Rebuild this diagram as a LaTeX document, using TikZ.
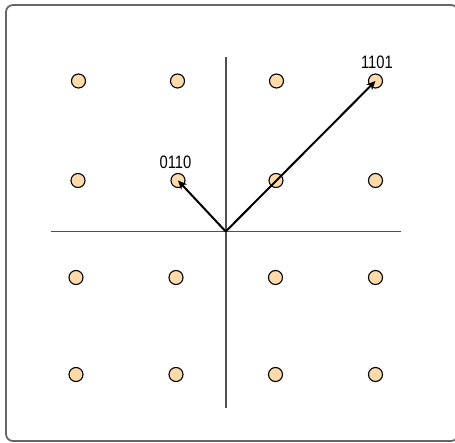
\documentclass[tikz,border=0pt]{standalone}
\usepackage{fontspec}
\setmainfont{Liberation Sans}[FakeStretch=0.82]
\usetikzlibrary{arrows.meta}
\definecolor{dotfill}{HTML}{FDDAAA}
\definecolor{axisgray}{HTML}{505050}
\definecolor{framegray}{HTML}{666666}
\begin{document}
\begin{tikzpicture}[x=1pt,y=-1pt,
  dot/.style={circle,draw=black,fill=dotfill,line width=1.1pt,minimum size=14pt,inner sep=0pt},
  axis/.style={draw=axisgray,line width=1.6pt},
  vec/.style={draw=black,line width=2pt,-{Stealth[length=9pt,width=8pt]}},
  lbl/.style={font=\fontsize{18}{18}\selectfont,inner sep=0pt}]
\useasboundingbox (0,0) rectangle (455,443);
\draw[framegray,line width=1.8pt,rounded corners=7pt] (6,5) rectangle (458,441);
% axes
\coordinate (xl) at (51,231.5);
\coordinate (xr) at (401,231.5);
\coordinate (yt) at (225.7,57);
\coordinate (yb) at (225.7,408);
\coordinate (o) at (225.7,231.5);
\draw[axis] (xl) -- (xr);
\draw[axis] (yt) -- (yb);
% dots
\node[dot] (d11) at (78.5,81) {};
\node[dot] (d12) at (177.5,81) {};
\node[dot] (d13) at (276.5,81) {};
\node[dot] (d14) at (375.5,81) {};
\node[dot] (d21) at (78,180.5) {};
\node[dot] (d22) at (178,180.5) {};
\node[dot] (d23) at (276,180.5) {};
\node[dot] (d24) at (375.5,180.5) {};
\node[dot] (d31) at (76,277.5) {};
\node[dot] (d32) at (176,277.5) {};
\node[dot] (d33) at (275.5,277.5) {};
\node[dot] (d34) at (375.5,277.5) {};
\node[dot] (d41) at (76,374.5) {};
\node[dot] (d42) at (176,374.5) {};
\node[dot] (d43) at (275.5,374.5) {};
\node[dot] (d44) at (375.5,374.5) {};
% vectors
\draw[vec] (o) -- (d22.center);
\draw[vec] (o) -- (d14.center);
% labels
\node[lbl] (l0110) at (175.5,162.5) {0110};
\node[lbl] (l1101) at (377,62) {1101};
\end{tikzpicture}
\end{document}
